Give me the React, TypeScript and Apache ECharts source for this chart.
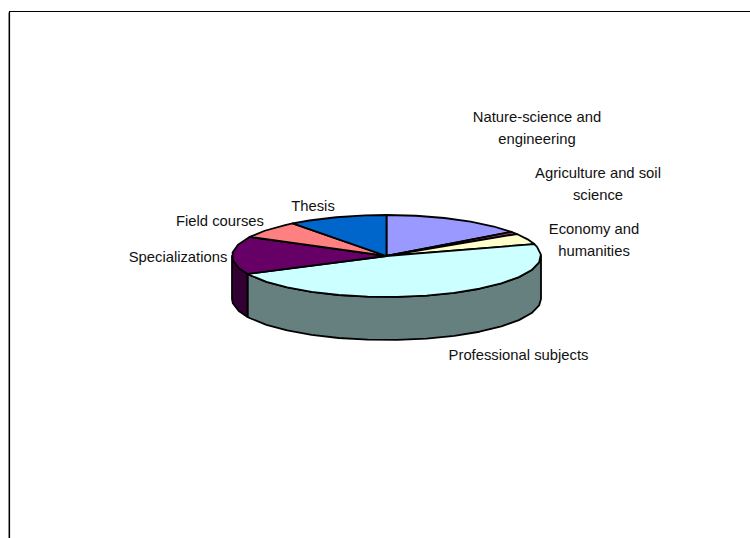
import React, { useEffect, useRef } from "react";
import * as echarts from "echarts";

const categories = [
  "Nature-science and engineering",
  "Agriculture and soil science",
  "Economy and humanities",
  "Professional subjects",
  "Specializations",
  "Field courses",
  "Thesis",
];
const values = [15, 1, 4.3, 47.5, 14.9, 6.9, 10.4];
const topColors = ["#9999FF", "#993366", "#FFFFCC", "#CCFFFF", "#660066", "#FF8080", "#0066CC"];
const sideColors = ["#4C4C80", "#4C1933", "#808066", "#668080", "#330033", "#804040", "#003366"];
const labelLines = [
  ["Nature-science and", "engineering"],
  ["Agriculture and soil", "science"],
  ["Economy and", "humanities"],
  ["Professional subjects"],
  ["Specializations"],
  ["Field courses"],
  ["Thesis"],
];

const CX = 386.5;
const CY = 256;
const RX = 154.5;
const RY = 41;
const DEPTH = 43;
const STEP = 11;
const labelAnchors: [number, number][] = [
  [537, 128], [598, 184], [594, 239.5], [518.5, 355], [178, 257], [220, 221], [313, 206],
];

const total = values.reduce((a, b) => a + b, 0);
const rad = (d: number) => (d * Math.PI) / 180;
const pt = (a: number, dy = 0): number[] => [
  CX + RX * Math.sin(rad(a)),
  CY - RY * Math.cos(rad(a)) + dy,
];
const arc = (a0: number, a1: number, dy = 0) => {
  const pts: number[][] = [];
  const first = Math.ceil(a0 / STEP) * STEP;
  pts.push(pt(a0, dy));
  for (let a = first; a < a1; a += STEP) if (a > a0) pts.push(pt(a, dy));
  pts.push(pt(a1, dy));
  return pts;
};

const stroke = { stroke: "#000", lineWidth: 1.8, lineJoin: "round" as const };

function renderSlice(params: any, api: any) {
  const i = params.dataIndex;
  let start = 0;
  for (let k = 0; k < i; k++) start += (values[k] / total) * 360;
  const end = start + (api.value(1) / total) * 360;
  const children: any[] = [];
  const w0 = Math.max(start, 90);
  const w1 = Math.min(end, 270);
  if (w1 > w0) {
    const top = arc(w0, w1);
    const bottom = arc(w0, w1, DEPTH).reverse();
    children.push({
      type: "polygon",
      shape: { points: [...top, ...bottom] },
      style: { fill: sideColors[i], ...stroke },
    });
  }
  children.push({
    type: "polygon",
    shape: { points: [[CX, CY], ...arc(start, end)] },
    style: { fill: topColors[i], ...stroke },
  });
  return { type: "group", children };
}

const FONT = { fontFamily: "Liberation Sans, Arial, sans-serif", fontSize: 14.8, fill: "#111" };

export default function App() {
  const ref = useRef<HTMLDivElement>(null);
  useEffect(() => {
    document.body.style.margin = "0";
    const chart = echarts.init(ref.current!, undefined, { renderer: "svg" });
    const textEls: any[] = [];
    labelLines.forEach((lines, i) => {
      const [x, y] = labelAnchors[i];
      lines.forEach((line, j) => {
        textEls.push({
          type: "text",
          x,
          y: y + (j - (lines.length - 1) / 2) * 22,
          style: { text: line, align: "center", verticalAlign: "middle", ...FONT },
        });
      });
    });
    chart.setOption({
      animation: false,
      backgroundColor: "#fff",
      graphic: [
        { type: "line", shape: { x1: 8.5, y1: 12.5, x2: 8.5, y2: 538 }, style: { stroke: "#9a9a9a", lineWidth: 1 } },
        { type: "line", shape: { x1: 9.5, y1: 11.5, x2: 9.5, y2: 538 }, style: { stroke: "#000", lineWidth: 1.2 } },
        { type: "line", shape: { x1: 9, y1: 11.5, x2: 750, y2: 11.5 }, style: { stroke: "#000", lineWidth: 1.2 } },
        ...textEls,
      ],
      series: [
        {
          type: "custom",
          coordinateSystem: "none",
          renderItem: renderSlice,
          data: categories.map((c, i) => ({ name: c, value: [i, values[i]] })),
          silent: true,
        },
      ],
    });
    return () => chart.dispose();
  }, []);
  return <div ref={ref} style={{ position: "absolute", left: 0, top: 0, width: 750, height: 538 }} />;
}
